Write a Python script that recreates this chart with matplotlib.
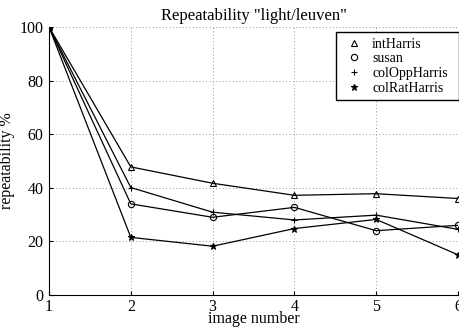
import matplotlib
matplotlib.use("Agg")
import matplotlib.pyplot as plt

plt.rcParams['font.family'] = ['Liberation Serif', 'DejaVu Serif']

images = [1, 2, 3, 4, 5, 6]
int_harris = [100, 47.8, 41.7, 37.2, 37.8, 36.0]
susan = [100, 34.0, 29.0, 32.7, 24.0, 26.0]
col_opp_harris = [100, 40.1, 30.9, 28.0, 29.8, 24.5]
col_rat_harris = [100, 21.5, 18.2, 24.8, 28.2, 15.0]

series = [
    ("intHarris", int_harris, "^"),
    ("susan", susan, "o"),
    ("colOppHarris", col_opp_harris, "+"),
    ("colRatHarris", col_rat_harris, "*"),
]

fig = plt.figure(figsize=(4.6, 3.27), dpi=100)
ax = fig.add_axes([49/460, 1 - 295/327, (458-49)/460, (295-27)/327])

for name, vals, m in series:
    ax.plot(images, vals, color='black', lw=0.9, marker=m,
            ms=4.5 if m != '*' else 5,
            mfc='none' if m in ('^', 'o') else 'black', mec='black', mew=0.8,
            label=name)

ax.set_xlim(1, 6)
ax.set_ylim(0, 100)
ax.set_xticks(images)
ax.set_yticks([0, 20, 40, 60, 80, 100])
ax.grid(True, linestyle=(0, (1, 3)), color='#777777', lw=0.6)
ax.spines['top'].set_visible(False)
ax.spines['right'].set_visible(False)
ax.tick_params(direction='in', length=3, labelsize=11.5, pad=4)
ax.tick_params(axis='x', pad=3)
ax.set_title('Repeatability "light/leuven"', fontsize=12, pad=5)
ax.set_xlabel('image number', fontsize=11.5, labelpad=-3)
ax.set_ylabel('repeatability %', fontsize=11.5, labelpad=3)

x0 = (336 - 49) / 409
x1 = (459 - 49) / 409
ytop = (295 - 32) / 268
leg = ax.legend(loc='upper left', bbox_to_anchor=(x0, ytop - 0.3, x1 - x0, 0.3),
                mode='expand', fontsize=10,
                frameon=True, fancybox=False, edgecolor='black', framealpha=1,
                handlelength=1.8, handletextpad=0.4, borderpad=0.4,
                labelspacing=0.12, borderaxespad=0)
leg.get_frame().set_linewidth(1.0)
for line in leg.get_lines():
    line.set_linestyle('none')

fig.savefig('out.png', dpi=100)
